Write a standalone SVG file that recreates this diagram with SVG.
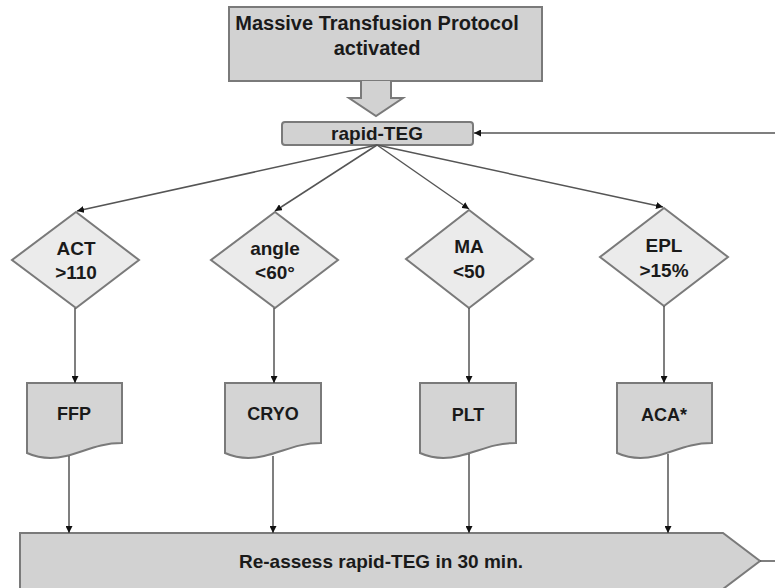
<svg xmlns="http://www.w3.org/2000/svg" width="775" height="588" viewBox="0 0 775 588">
<style>
text{font-family:"Liberation Sans",Arial,sans-serif;font-weight:bold;fill:#1a1a1a;text-anchor:middle}
.box{fill:#d2d2d2;stroke:#7a7a7a;stroke-width:2}
.dia{fill:#ebebeb;stroke:#7a7a7a;stroke-width:2}
.doc{fill:#d4d4d4;stroke:#7a7a7a;stroke-width:2}
.ln{fill:none;stroke:#555;stroke-width:1.5}
.t20{font-size:20px}.t19{font-size:19px}.t18{font-size:18px}
</style>
<defs>
<marker id="ah" viewBox="0 0 10 10" refX="10" refY="5" markerWidth="7" markerHeight="7" markerUnits="userSpaceOnUse" orient="auto">
<path d="M0,0 L10,5 L0,10 Z" fill="#111"/>
</marker>
</defs>
<g id="mtp">
<rect class="box" x="229" y="7" width="313" height="74"/>
<text class="t20" x="377" y="30">Massive Transfusion Protocol</text>
<text class="t20" x="377" y="55">activated</text>
</g>
<g id="blockarrow">
<path class="box" d="M361,81 V98 H349 L376,116 L403,98 H391 V81"/>
</g>
<g id="rapidteg">
<rect class="box" x="282" y="122" width="191" height="23" rx="3"/>
<text class="t19" x="377" y="140">rapid-TEG</text>
</g>
<g id="act">
<polygon class="dia" points="76,212 139,260 76,308 12,260"/>
<text class="t19" x="76" y="255">ACT</text>
<text class="t19" x="76" y="279">&gt;110</text>
</g>
<g id="angle">
<polygon class="dia" points="275,212 338,260 275,308 211,260"/>
<text class="t19" x="275" y="255">angle</text>
<text class="t19" x="275" y="279">&lt;60°</text>
</g>
<g id="ma">
<polygon class="dia" points="469,210 533,259 469,308 406,259"/>
<text class="t19" x="469" y="253">MA</text>
<text class="t19" x="469" y="278">&lt;50</text>
</g>
<g id="epl">
<polygon class="dia" points="664,208 728,257 664,306 600,257"/>
<text class="t19" x="664" y="252">EPL</text>
<text class="t19" x="664" y="277">&gt;15%</text>
</g>
<g id="ffp">
<path class="doc" d="M27,383 H122 V443 C98,443 84,452 66,456 C50,460 36,457 27,453 Z"/>
<text class="t18" x="74" y="420">FFP</text>
</g>
<g id="cryo">
<path class="doc" d="M225,383 H321 V443 C297,443 283,452 264,456 C248,460 234,457 225,453 Z"/>
<text class="t18" x="273" y="420">CRYO</text>
</g>
<g id="plt">
<path class="doc" d="M420,383 H516 V443 C492,443 478,452 459,456 C443,460 429,457 420,453 Z"/>
<text class="t18" x="468" y="421">PLT</text>
</g>
<g id="aca">
<path class="doc" d="M617,383 H712 V443 C688,443 674,452 656,456 C640,460 626,457 617,453 Z"/>
<text class="t18" x="664" y="421">ACA*</text>
</g>
<g id="reassess">
<path class="box" d="M20,533 H723 L760,561 L723,589 H20 Z"/>
<text class="t19" x="381" y="568">Re-assess rapid-TEG in 30 min.</text>
</g>
<g id="connectors">
<line class="ln" x1="775" y1="133" x2="474" y2="133" marker-end="url(#ah)"/>
<line class="ln" x1="377" y1="145" x2="77" y2="211" marker-end="url(#ah)"/>
<line class="ln" x1="377" y1="145" x2="275" y2="211" marker-end="url(#ah)"/>
<line class="ln" x1="377" y1="145" x2="469" y2="209" marker-end="url(#ah)"/>
<line class="ln" x1="377" y1="145" x2="663" y2="207" marker-end="url(#ah)"/>
<line class="ln" x1="75" y1="308" x2="75" y2="383" marker-end="url(#ah)"/>
<line class="ln" x1="274" y1="308" x2="274" y2="383" marker-end="url(#ah)"/>
<line class="ln" x1="469" y1="308" x2="469" y2="383" marker-end="url(#ah)"/>
<line class="ln" x1="664" y1="306" x2="664" y2="383" marker-end="url(#ah)"/>
<line class="ln" x1="69" y1="456" x2="69" y2="533" marker-end="url(#ah)"/>
<line class="ln" x1="273" y1="456" x2="273" y2="533" marker-end="url(#ah)"/>
<line class="ln" x1="469" y1="454" x2="469" y2="533" marker-end="url(#ah)"/>
<line class="ln" x1="668" y1="454" x2="668" y2="533" marker-end="url(#ah)"/>
<line class="ln" x1="760" y1="561" x2="775" y2="561"/>
</g>
</svg>
